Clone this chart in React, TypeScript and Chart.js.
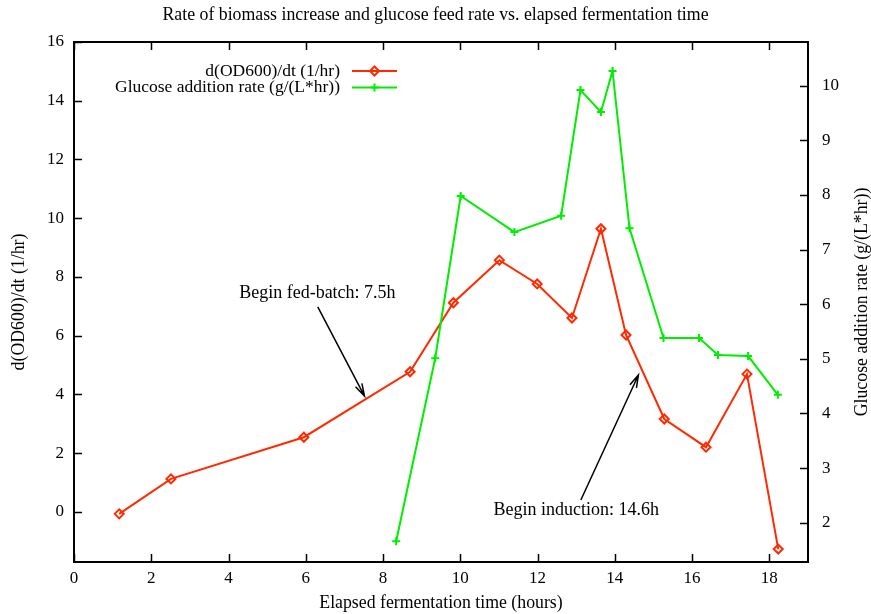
import React, { useEffect, useRef } from 'react';
import { Chart, registerables } from 'chart.js';

Chart.register(...registerables);

// ---- data ----
const odTime = [1.17, 2.51, 5.95, 8.7, 9.82, 11.01, 11.99, 12.89, 13.64, 14.29, 15.28, 16.36, 17.42, 18.23];
const odRate = [-0.07, 1.12, 2.54, 4.77, 7.12, 8.57, 7.76, 6.6, 9.64, 6.02, 3.16, 2.2, 4.69, -1.27];
const glucoseTime = [8.34, 9.35, 10.01, 11.4, 12.61, 13.11, 13.64, 13.94, 14.38, 15.26, 16.18, 16.67, 17.45, 18.22];
const glucoseRate = [1.66, 5.01, 7.98, 7.32, 7.62, 9.92, 9.52, 10.27, 7.39, 5.38, 5.38, 5.07, 5.05, 4.34];

const xTicks = [0, 2, 4, 6, 8, 10, 12, 14, 16, 18];
const yTicks = [0, 2, 4, 6, 8, 10, 12, 14, 16];
const y2Ticks = [2, 3, 4, 5, 6, 7, 8, 9, 10];

const titleText = 'Rate of biomass increase and glucose feed rate vs. elapsed fermentation time';
const xLabel = 'Elapsed fermentation time (hours)';
const yLabel = 'd(OD600)/dt (1/hr)';
const y2Label = 'Glucose addition rate (g/(L*hr))';
const odName = 'd(OD600)/dt (1/hr)';
const glucoseName = 'Glucose addition rate (g/(L*hr))';

// annotations: label position and arrow (data coordinates of left y axis)
const fedBatchLabel = { text: 'Begin fed-batch: 7.5h', x: 6.3, y: 7.45 };
const fedBatchArrow = { x1: 6.31, y1: 6.98, x2: 7.52, y2: 3.94 };
const inductionLabel = { text: 'Begin induction: 14.6h', x: 13.0, y: 0.06 };
const inductionArrow = { x1: 13.12, y1: 0.4, x2: 14.61, y2: 4.66 };

const RED = '#ff2a00';
const GREEN = '#00ee00';
const FONT = '"Liberation Serif", "Times New Roman", serif';

function drawDiamond(ctx: CanvasRenderingContext2D, x: number, y: number, r: number) {
  ctx.beginPath();
  ctx.moveTo(x, y - r);
  ctx.lineTo(x + r, y);
  ctx.lineTo(x, y + r);
  ctx.lineTo(x - r, y);
  ctx.closePath();
  ctx.stroke();
}
function drawCross(ctx: CanvasRenderingContext2D, x: number, y: number, r: number) {
  ctx.beginPath();
  ctx.moveTo(x - r, y);
  ctx.lineTo(x + r, y);
  ctx.moveTo(x, y - r);
  ctx.lineTo(x, y + r);
  ctx.stroke();
}
function drawArrow(ctx: CanvasRenderingContext2D, x1: number, y1: number, x2: number, y2: number) {
  ctx.beginPath();
  ctx.moveTo(x1, y1);
  ctx.lineTo(x2, y2);
  const ang = Math.atan2(y2 - y1, x2 - x1);
  const len = 13;
  const spread = 0.28;
  ctx.moveTo(x2 - len * Math.cos(ang - spread), y2 - len * Math.sin(ang - spread));
  ctx.lineTo(x2, y2);
  ctx.lineTo(x2 - len * Math.cos(ang + spread), y2 - len * Math.sin(ang + spread));
  ctx.stroke();
}

const gnuplotPlugin = {
  id: 'gnuplotDecor',
  beforeDatasetsDraw(chart: any) {
    const { ctx, chartArea: a, scales } = chart;
    ctx.save();
    ctx.strokeStyle = '#000';
    ctx.lineWidth = 1.5;
    const tl = 8;
    ctx.beginPath();
    xTicks.forEach((v) => {
      const px = Math.round(scales.x.getPixelForValue(v)) + 0.5;
      ctx.moveTo(px, a.bottom);
      ctx.lineTo(px, a.bottom - tl);
      ctx.moveTo(px, a.top);
      ctx.lineTo(px, a.top + tl);
    });
    yTicks.forEach((v) => {
      const py = Math.round(scales.y.getPixelForValue(v)) + 0.5;
      ctx.moveTo(a.left, py);
      ctx.lineTo(a.left + tl, py);
    });
    y2Ticks.forEach((v) => {
      const py = Math.round(scales.y2.getPixelForValue(v)) + 0.5;
      ctx.moveTo(a.right, py);
      ctx.lineTo(a.right - tl, py);
    });
    ctx.stroke();
    ctx.lineWidth = 2;
    ctx.strokeRect(a.left, a.top, a.right - a.left, a.bottom - a.top);
    ctx.restore();
  },
  afterDatasetsDraw(chart: any) {
    const { ctx, scales } = chart;
    ctx.save();
    // annotations
    ctx.fillStyle = '#000';
    ctx.strokeStyle = '#000';
    ctx.lineWidth = 1.5;
    ctx.font = `18px ${FONT}`;
    ctx.textAlign = 'center';
    ctx.textBaseline = 'middle';
    [fedBatchLabel, inductionLabel].forEach((l) => {
      ctx.fillText(l.text, scales.x.getPixelForValue(l.x), scales.y.getPixelForValue(l.y));
    });
    [fedBatchArrow, inductionArrow].forEach((r) => {
      drawArrow(
        ctx,
        scales.x.getPixelForValue(r.x1),
        scales.y.getPixelForValue(r.y1),
        scales.x.getPixelForValue(r.x2),
        scales.y.getPixelForValue(r.y2)
      );
    });
    // legend
    const textRight = 340;
    const lineX1 = 352;
    const lineX2 = 397;
    const rows = [
      { name: odName, color: RED, y: 71, marker: 'diamond' },
      { name: glucoseName, color: GREEN, y: 87.5, marker: 'cross' },
    ];
    ctx.font = `17.5px ${FONT}`;
    ctx.textAlign = 'right';
    rows.forEach((r) => {
      ctx.fillStyle = '#000';
      ctx.fillText(r.name, textRight, r.y);
      ctx.strokeStyle = r.color;
      ctx.lineWidth = 2;
      ctx.beginPath();
      ctx.moveTo(lineX1, r.y);
      ctx.lineTo(lineX2, r.y);
      ctx.stroke();
      const mx = (lineX1 + lineX2) / 2;
      if (r.marker === 'diamond') drawDiamond(ctx, mx, r.y, 4.5);
      else drawCross(ctx, mx, r.y, 4);
    });
    ctx.restore();
  },
  afterDraw(chart: any) {
    const { ctx, chartArea: a, width } = chart;
    ctx.save();
    ctx.fillStyle = '#000';
    ctx.textAlign = 'center';
    ctx.textBaseline = 'middle';
    ctx.font = `17.8px ${FONT}`;
    ctx.fillText(titleText, width / 2, 15);
    ctx.font = `17.8px ${FONT}`;
    ctx.fillText(xLabel, (a.left + a.right) / 2, 603);
    ctx.save();
    ctx.translate(19, (a.top + a.bottom) / 2);
    ctx.rotate(-Math.PI / 2);
    ctx.fillText(yLabel, 0, 0);
    ctx.restore();
    ctx.save();
    ctx.translate(862, (a.top + a.bottom) / 2);
    ctx.rotate(-Math.PI / 2);
    ctx.fillText(y2Label, 0, 0);
    ctx.restore();
    ctx.restore();
  },
};

export default function App() {
  const ref = useRef<HTMLCanvasElement | null>(null);
  useEffect(() => {
    if (!ref.current) return;
    const tickFont = { family: FONT, size: 17 };
    const chart = new Chart(ref.current, {
      type: 'line',
      data: {
        datasets: [
          {
            label: odName,
            data: odTime.map((t, i) => ({ x: t, y: odRate[i] })),
            yAxisID: 'y',
            borderColor: RED,
            borderWidth: 2,
            pointStyle: 'rectRot',
            pointRadius: 4.5,
            pointBorderWidth: 2,
            pointBorderColor: RED,
            pointBackgroundColor: 'rgba(0,0,0,0)',
            tension: 0,
            order: 2,
          },
          {
            label: glucoseName,
            data: glucoseTime.map((t, i) => ({ x: t, y: glucoseRate[i] })),
            yAxisID: 'y2',
            borderColor: GREEN,
            borderWidth: 2,
            pointStyle: 'cross',
            pointRadius: 4,
            pointBorderWidth: 2,
            pointBorderColor: GREEN,
            tension: 0,
            order: 1,
          },
        ],
      },
      options: {
        responsive: false,
        animation: false,
        layout: { padding: { top: 42, left: 0, right: 0, bottom: 0 } },
        plugins: { legend: { display: false }, title: { display: false }, tooltip: { enabled: false } },
        scales: {
          x: {
            type: 'linear',
            min: 0,
            max: 19,
            afterBuildTicks: (s: any) => {
              s.ticks = xTicks.map((v) => ({ value: v }));
            },
            afterFit: (s: any) => {
              s.height = 52;
            },
            grid: { display: false, drawTicks: false },
            border: { display: false },
            ticks: { font: tickFont, color: '#000', padding: 6, maxRotation: 0, autoSkip: false },
          },
          y: {
            type: 'linear',
            position: 'left',
            min: -1.71,
            max: 16,
            afterBuildTicks: (s: any) => {
              s.ticks = yTicks.map((v) => ({ value: v }));
            },
            afterFit: (s: any) => {
              s.width = 74;
            },
            grid: { display: false, drawTicks: false },
            border: { display: false },
            ticks: { font: tickFont, color: '#000', padding: 10, autoSkip: false },
          },
          y2: {
            type: 'linear',
            position: 'right',
            min: 1.28,
            max: 10.8,
            afterBuildTicks: (s: any) => {
              s.ticks = y2Ticks.map((v) => ({ value: v }));
            },
            afterFit: (s: any) => {
              s.width = 63;
            },
            grid: { display: false, drawTicks: false },
            border: { display: false },
            ticks: { font: tickFont, color: '#000', padding: 14, autoSkip: false },
          },
        },
      },
      plugins: [gnuplotPlugin],
    } as any);
    return () => chart.destroy();
  }, []);
  return (
    <div style={{ position: 'absolute', left: 0, top: 0, width: 871, height: 614, background: '#fff' }}>
      <canvas ref={ref} width={871} height={614} style={{ width: 871, height: 614, display: 'block' }} />
    </div>
  );
}
